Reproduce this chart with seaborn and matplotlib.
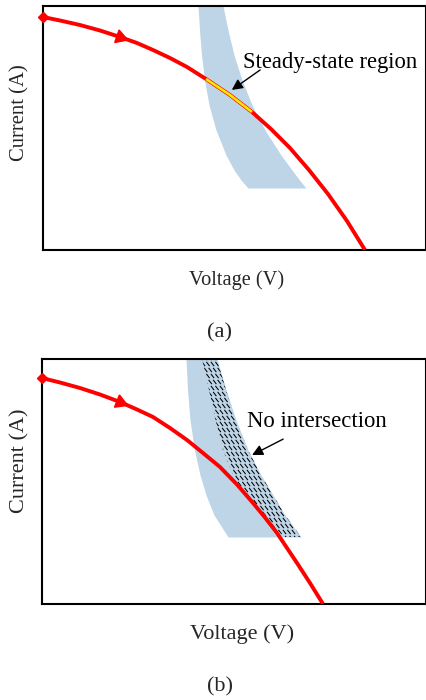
import matplotlib
matplotlib.use("Agg")
import matplotlib.pyplot as plt
from matplotlib.collections import LineCollection
import seaborn as sns
import pandas as pd
import numpy as np

# ---------------- data (normalised axes 0..1, no ticks) ----------------
# Panel (a): I-V curve
a_volt = [0.0, 0.0444, 0.0966, 0.1488, 0.2010, 0.2454, 0.2872, 0.3316, 0.3760, 0.4256,
          0.4569, 0.4883, 0.5170, 0.5457, 0.5953, 0.6449, 0.6945, 0.7441, 0.7937, 0.8407]
a_curr = [0.9549, 0.9406, 0.9221, 0.8996, 0.8730, 0.8484, 0.8197, 0.7869, 0.7500, 0.7008,
          0.6680, 0.6352, 0.6004, 0.5656, 0.4959, 0.4180, 0.3279, 0.2295, 0.1189, 0.0]
a_steady_idx = [9, 10, 11, 12, 13]   # curve points inside the steady-state region
a_arrow_idx = 4
# Panel (a): band
a_band_y = [1.0, 0.9016, 0.7992, 0.6967, 0.5943, 0.4918, 0.3893, 0.3279, 0.2869, 0.2541]
a_band_left = [0.4047, 0.4086, 0.4138, 0.4217, 0.4334, 0.4517, 0.4778, 0.4987, 0.5170, 0.5352]
a_band_right = [0.4700, 0.4830, 0.4987, 0.5196, 0.5457, 0.5796, 0.6214, 0.6501, 0.6697, 0.6867]

# Panel (b): I-V curve
b_volt = [0.0, 0.0469, 0.0990, 0.1510, 0.2031, 0.2474, 0.2891, 0.3333, 0.3776, 0.4193,
          0.4635, 0.5078, 0.5495, 0.5807, 0.6120, 0.6380, 0.6641, 0.6979, 0.7318]
b_curr = [0.9224, 0.9041, 0.8816, 0.8551, 0.8245, 0.7939, 0.7633, 0.7184, 0.6694, 0.6163,
          0.5592, 0.4878, 0.4122, 0.3531, 0.2898, 0.2286, 0.1673, 0.0857, 0.0]
b_arrow_idx = 4
# Panel (b): band with hatched part
b_band_y = [1.0, 0.8735, 0.7510, 0.6286, 0.5265, 0.4449, 0.3633, 0.2735]
b_band_left = [0.3750, 0.3789, 0.3854, 0.3971, 0.4115, 0.4271, 0.4479, 0.4844]
b_band_hatch = [0.4167, 0.4349, 0.4518, 0.4714, 0.4974, 0.5313, 0.5729, 0.6302]
b_band_right = [0.4557, 0.4792, 0.5052, 0.5365, 0.5703, 0.6016, 0.6328, 0.6745]

xlabel = "Voltage (V)"
ylabel = "Current (A)"
a_note = "Steady-state region"
b_note = "No intersection"
panel_labels = ["(a)", "(b)"]

# ---------------- style ----------------
sns.set_theme(style="white")
plt.rcParams["font.family"] = ["Liberation Serif", "DejaVu Serif"]

RED = "#FF0000"
YELLOW = "#FFE800"
BLUE = "#BDD5E7"

FIG_W, FIG_H = 427, 700
fig = plt.figure(figsize=(FIG_W / 100, FIG_H / 100), dpi=100)
ax_a = fig.add_axes([43 / FIG_W, 1 - 250 / FIG_H, 383 / FIG_W, 244 / FIG_H])
ax_b = fig.add_axes([42 / FIG_W, 1 - 604 / FIG_H, 384 / FIG_W, 245 / FIG_H])

for ax in (ax_a, ax_b):
    ax.set_xlim(0, 1)
    ax.set_ylim(0, 1)
    ax.set_xticks([])
    ax.set_yticks([])
    for s in ax.spines.values():
        s.set_color("black")
        s.set_linewidth(1.5)
        s.set_visible(True)

line_kw = dict(sort=False, estimator=None, solid_joinstyle="round", solid_capstyle="butt")

# ---------------- panel (a) ----------------
ax_a.fill_betweenx(a_band_y, a_band_left, a_band_right, color=BLUE, linewidth=0, zorder=1)
df_a = pd.DataFrame({"V": a_volt, "I": a_curr})
sns.lineplot(data=df_a, x="V", y="I", color=RED, linewidth=2.8, ax=ax_a, zorder=3, **line_kw)
df_as = df_a.iloc[a_steady_idx]
sns.lineplot(data=df_as, x="V", y="I", color=YELLOW, linewidth=1.9, ax=ax_a, zorder=4, **line_kw)
ax_a.plot([a_volt[0]], [a_curr[0]], marker="D", markersize=5.5, color=RED,
          clip_on=False, zorder=5)
ax_a.plot([a_volt[a_arrow_idx]], [a_curr[a_arrow_idx]], marker=(3, 0, -109),
          markersize=11, color=RED, zorder=5)
ax_a.annotate("", xy=(0.493, 0.656), xytext=(0.567, 0.738),
              arrowprops=dict(arrowstyle="-|>", color="black", lw=1.0,
                              mutation_scale=16, shrinkA=0, shrinkB=0), zorder=6)
ax_a.text(0.749, 0.770, a_note, ha="center", va="center", fontsize=16.3, color="black")

# ---------------- panel (b) ----------------
ax_b.fill_betweenx(b_band_y, b_band_left, b_band_right, color=BLUE, linewidth=0, zorder=1)
hatch_area = ax_b.fill_betweenx(b_band_y, b_band_hatch, b_band_right, facecolor="none",
                                linewidth=0, zorder=2)
# dashed downward-diagonal texture (rows of short "\" dashes), clipped to the hatched area
AX_W, AX_H = 384.0, 245.0
segs = []
for i, yp in enumerate(np.arange(0, AX_H + 8, 6.0)):
    off = 2.25 * (i % 2)
    for xp in np.arange(130 + off, 275, 4.5):
        segs.append([((xp - 1.6) / AX_W, (yp + 2.1) / AX_H),
                     ((xp + 1.6) / AX_W, (yp - 2.1) / AX_H)])
lc = LineCollection(segs, colors="black", linewidths=0.75, zorder=2.5)
ax_b.add_collection(lc)
lc.set_clip_path(hatch_area.get_paths()[0], ax_b.transData)

df_b = pd.DataFrame({"V": b_volt, "I": b_curr})
sns.lineplot(data=df_b, x="V", y="I", color=RED, linewidth=2.8, ax=ax_b, zorder=3, **line_kw)
ax_b.plot([b_volt[0]], [b_curr[0]], marker="D", markersize=5.5, color=RED,
          clip_on=False, zorder=5)
ax_b.plot([b_volt[b_arrow_idx]], [b_curr[b_arrow_idx]], marker=(3, 0, -112),
          markersize=11, color=RED, zorder=5)
ax_b.annotate("", xy=(0.547, 0.608), xytext=(0.628, 0.673),
              arrowprops=dict(arrowstyle="-|>", color="black", lw=1.0,
                              mutation_scale=16, shrinkA=0, shrinkB=0), zorder=6)
ax_b.text(0.716, 0.743, b_note, ha="center", va="center", fontsize=16.4, color="black")

for ax in (ax_a, ax_b):
    ax.set_xlabel("")
    ax.set_ylabel("")

# ---------------- labels ----------------
fig.text(237 / FIG_W, 1 - 280 / FIG_H, xlabel, ha="center", va="center", fontsize=14.7)
fig.text(20 / FIG_W, 1 - 113 / FIG_H, ylabel, ha="center", va="center", rotation=90, fontsize=14.9)
fig.text(220 / FIG_W, 1 - 333 / FIG_H, panel_labels[0], ha="center", va="center", fontsize=16.2)

fig.text(242 / FIG_W, 1 - 634 / FIG_H, xlabel, ha="center", va="center", fontsize=16.0)
fig.text(20 / FIG_W, 1 - 461 / FIG_H, ylabel, ha="center", va="center", rotation=90, fontsize=16.0)
fig.text(220 / FIG_W, 1 - 687 / FIG_H, panel_labels[1], ha="center", va="center", fontsize=16.0)

fig.savefig("out.png", dpi=100)
